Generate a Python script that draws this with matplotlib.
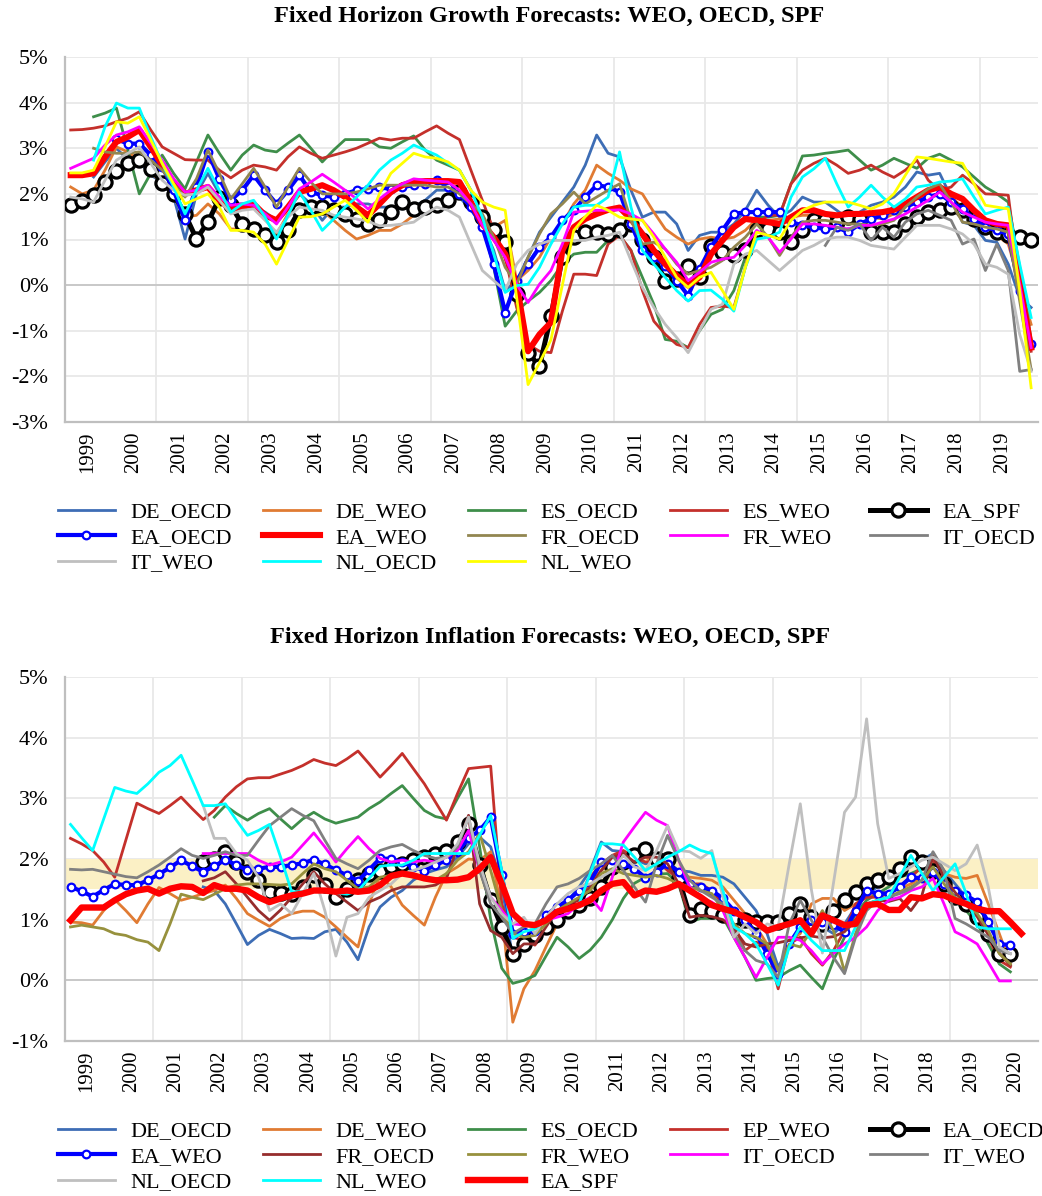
import numpy as np
import matplotlib
matplotlib.use("Agg")
import matplotlib.pyplot as plt

plt.rcParams['font.family'] = ['Liberation Serif', 'DejaVu Serif']

# ---------------- growth forecasts (quarterly, top panel) ----------------
growth_years = ['1999', '2000', '2001', '2002', '2003', '2004', '2005', '2006', '2007', '2008',
                '2009', '2010', '2011', '2012', '2013', '2014', '2015', '2016', '2017', '2018', '2019']

g_de_oecd = [None, None, 2.37, 2.70, 3.00, 2.74, 2.70, 2.41, 2.26, 1.93,
             1.01, 2.00, 2.45, 2.00, 1.78, 1.78, 1.71, 1.60, 1.42, 1.71,
             2.00, 1.78, 1.42, 1.71, 1.71, 1.78, 1.78, 1.71, 1.71, 1.67,
             1.71, 1.86, 2.08, 2.08, 1.93, 1.64, 1.34, 0.76, -0.12, 0.10,
             0.61, 1.16, 1.49, 1.82, 2.15, 2.63, 3.29, 2.89, 2.81, 2.08,
             1.49, 1.60, 1.60, 1.34, 0.76, 1.09, 1.16, 1.16, 1.34, 1.64,
             2.08, 1.75, 1.49, 1.64, 1.93, 1.82, 1.82, 1.64, 1.45, 1.60,
             1.75, 1.82, 1.93, 2.15, 2.48, 2.41, 2.45, 1.93, 1.38, 1.31,
             0.98, 0.94, 0.46, -0.27, -0.49]
g_de_weo = [2.15, 2.00, 2.08, 2.52, 3.03, 2.92, 2.74, 2.45, 2.26, 1.93,
            1.49, 1.53, 1.78, 1.56, 1.23, 1.23, 1.16, 1.16, 1.12, 1.56,
            1.71, 1.82, 1.64, 1.42, 1.20, 1.01, 1.09, 1.20, 1.20, 1.34,
            1.53, 1.71, 1.78, 1.93, 2.08, 1.93, 1.56, 1.27, 1.42, 0.10,
            0.32, 0.61, 1.05, 1.34, 1.78, 2.08, 2.63, 2.45, 2.30, 2.11,
            2.00, 1.60, 1.23, 1.05, 0.90, 1.01, 1.05, 1.01, 1.05, 1.20,
            1.45, 1.42, 1.45, 1.49, 1.53, 1.53, 1.49, 1.45, 1.42, 1.45,
            1.49, 1.45, 1.56, 1.67, 1.86, 2.04, 2.15, 1.93, 1.71, 1.42,
            1.20, 1.09, 0.90, 0.02, -0.86]
g_es_oecd = [None, None, 3.69, 3.77, 3.88, 2.96, 2.00, 2.45, 2.85, 2.45,
             2.11, 2.70, 3.29, 2.89, 2.52, 2.85, 3.07, 2.96, 2.92, 3.11,
             3.29, 3.00, 2.70, 2.96, 3.19, 3.19, 3.19, 3.03, 3.00, 3.14,
             3.27, 2.96, 2.74, 2.63, 2.52, 2.08, 1.34, 0.39, -0.90, -0.57,
             -0.35, -0.16, 0.10, 0.46, 0.68, 0.72, 0.72, 0.98, 1.09, 0.76,
             0.17, -0.42, -1.19, -1.23, -1.37, -1.00, -0.64, -0.53, -0.12, 0.61,
             1.49, 1.49, 1.53, 2.22, 2.83, 2.85, 2.89, 2.92, 2.96, 2.74,
             2.52, 2.63, 2.78, 2.67, 2.56, 2.78, 2.87, 2.74, 2.59, 2.37,
             2.15, 2.00, 1.82, 0.39, -1.20]
g_es_weo = [3.40, 3.41, 3.44, 3.49, 3.58, 3.66, 3.80, 3.40, 3.03, 2.89,
            2.75, 2.74, 2.74, 2.52, 2.35, 2.52, 2.63, 2.59, 2.52, 2.81,
            3.03, 2.89, 2.78, 2.85, 2.92, 3.00, 3.11, 3.22, 3.18, 3.22,
            3.22, 3.36, 3.49, 3.33, 3.19, 2.52, 1.86, 1.20, 0.61, -0.49,
            -1.30, -1.45, -1.48, -0.57, 0.24, 0.24, 0.21, 0.90, 1.09, 0.76,
            -0.12, -0.79, -1.08, -1.30, -1.37, -0.86, -0.49, -0.46, -0.49, 0.39,
            1.34, 1.53, 1.53, 2.22, 2.52, 2.67, 2.78, 2.63, 2.45, 2.52,
            2.63, 2.48, 2.36, 2.52, 2.74, 2.30, 2.08, 2.15, 2.41, 2.22,
            2.00, 1.99, 1.97, 0.02, -1.45]
g_ea_spf = [1.75, 1.84, 1.97, 2.26, 2.50, 2.68, 2.74, 2.55, 2.24, 2.00,
            1.55, 1.01, 1.38, 1.90, 1.75, 1.34, 1.23, 1.09, 0.94, 1.20,
            1.64, 1.71, 1.71, 1.64, 1.56, 1.45, 1.34, 1.42, 1.60, 1.82,
            1.67, 1.71, 1.75, 1.86, 2.04, 1.82, 1.49, 1.20, 0.94, -0.20,
            -1.48, -1.78, -0.68, 0.61, 1.05, 1.16, 1.16, 1.12, 1.20, 1.34,
            0.98, 0.61, 0.10, 0.13, 0.43, 0.17, 0.85, 0.72, 0.65, 0.76,
            1.20, 1.23, 1.16, 0.94, 1.20, 1.42, 1.42, 1.38, 1.49, 1.45,
            1.16, 1.16, 1.16, 1.34, 1.49, 1.60, 1.64, 1.71, 1.64, 1.45,
            1.27, 1.16, 1.09, 1.05, 0.98]
g_ea_oecd = [None, None, None, None, 3.20, 3.10, 3.10, 2.85, 2.60, 2.08,
             1.42, 2.15, 2.92, 2.33, 1.86, 2.08, 2.41, 2.08, 1.78, 2.08,
             2.41, 2.04, 1.97, 1.93, 2.00, 2.08, 2.11, 2.14, 2.11, 2.15,
             2.19, 2.22, 2.30, 2.15, 2.00, 1.71, 1.27, 0.46, -0.60, 0.10,
             0.46, 0.83, 1.05, 1.42, 1.64, 1.93, 2.19, 2.15, 2.04, 1.34,
             0.76, 0.61, 0.43, 0.10, -0.23, 0.35, 0.83, 1.20, 1.56, 1.60,
             1.60, 1.60, 1.60, 1.38, 1.31, 1.27, 1.23, 1.27, 1.16, 1.34,
             1.45, 1.53, 1.64, 1.71, 1.82, 1.93, 2.00, 1.82, 1.67, 1.45,
             1.27, 1.20, 1.12, -0.12, -1.30]
g_ea_weo = [2.41, 2.41, 2.45, 2.81, 3.14, 3.25, 3.40, 3.03, 2.63, 2.26,
            2.00, 2.08, 2.15, 1.86, 1.67, 1.71, 1.78, 1.53, 1.42, 1.71,
            2.04, 2.11, 2.19, 2.08, 1.93, 1.71, 1.53, 1.78, 2.04, 2.19,
            2.26, 2.28, 2.28, 2.28, 2.26, 1.82, 1.34, 1.05, 0.68, 0.02,
            -1.45, -1.08, -0.82, 0.76, 1.27, 1.45, 1.56, 1.65, 1.70, 1.45,
            1.12, 0.76, 0.46, 0.21, -0.01, 0.17, 0.68, 0.98, 1.27, 1.45,
            1.42, 1.38, 1.34, 1.49, 1.64, 1.64, 1.56, 1.53, 1.56, 1.56,
            1.58, 1.60, 1.65, 1.78, 1.93, 2.08, 2.15, 2.00, 1.89, 1.64,
            1.42, 1.34, 1.31, 0.02, -1.37]
g_fr_oecd = [None, None, 3.00, 2.92, 2.89, 2.89, 2.92, 2.74, 2.52, 2.22,
             1.93, 2.33, 2.96, 2.45, 1.89, 2.22, 2.56, 2.15, 1.71, 2.15,
             2.56, 2.26, 2.00, 2.00, 2.00, 2.04, 2.11, 2.19, 2.19, 2.19,
             2.19, 2.19, 2.15, 2.15, 2.00, 1.78, 1.56, 1.05, 0.39, 0.02,
             0.61, 1.12, 1.56, 1.78, 2.04, 1.78, 1.93, 2.08, 2.22, 1.42,
             0.90, 0.94, 0.79, 0.46, 0.24, 0.32, 0.39, 0.54, 0.83, 1.05,
             1.34, 1.05, 0.65, 1.05, 1.38, 1.42, 1.42, 1.38, 1.34, 1.34,
             1.31, 1.34, 1.42, 1.71, 1.93, 2.11, 2.22, 1.82, 1.38, 1.34,
             1.27, 1.23, 1.16, -0.35, -1.85]
g_fr_weo = [2.56, 2.67, 2.78, 3.07, 3.29, 3.36, 3.47, 3.11, 2.74, 2.33,
            2.04, 2.08, 2.19, 1.93, 1.75, 1.78, 1.75, 1.56, 1.34, 1.71,
            2.11, 2.26, 2.43, 2.26, 2.08, 1.89, 1.67, 1.89, 2.08, 2.22,
            2.33, 2.30, 2.28, 2.26, 2.08, 1.78, 1.31, 0.98, 0.61, 0.02,
            -0.38, 0.02, 0.32, 0.90, 1.60, 1.62, 1.64, 1.64, 1.65, 1.56,
            1.42, 1.12, 0.79, 0.50, 0.10, 0.28, 0.50, 0.57, 0.61, 0.87,
            1.20, 1.05, 0.72, 1.01, 1.34, 1.34, 1.31, 1.27, 1.23, 1.31,
            1.31, 1.38, 1.45, 1.56, 1.71, 1.86, 2.04, 1.82, 1.60, 1.49,
            1.38, 1.34, 1.31, 0.02, -1.37]
g_it_oecd = [None] * 66 + [0.87, 1.27, 1.20, 1.34,
                           0.98, 1.27, 1.05, 1.38, 1.56, 1.64, 1.53, 1.42, 0.90, 1.01,
                           0.32, 0.90, 0.32, -1.89, -1.85]
g_it_weo = [1.93, 1.89, 1.82, 2.30, 2.74, 2.89, 3.03, 2.67, 2.30, 2.08,
            1.97, 2.00, 2.15, 1.86, 1.56, 1.64, 1.67, 1.42, 1.16, 1.49,
            1.71, 1.67, 1.64, 1.53, 1.49, 1.45, 1.40, 1.30, 1.31, 1.34,
            1.38, 1.56, 1.71, 1.64, 1.49, 0.90, 0.32, 0.10, -0.12, 0.46,
            0.76, 0.90, 0.98, 0.98, 0.98, 0.98, 1.05, 1.09, 1.16, 0.54,
            -0.05, -0.49, -0.86, -1.15, -1.48, -1.00, -0.53, -0.42, 0.46, 0.68,
            0.76, 0.54, 0.32, 0.54, 0.76, 0.87, 1.01, 1.05, 1.05, 0.98,
            0.87, 0.83, 0.79, 1.05, 1.31, 1.31, 1.31, 1.23, 1.12, 0.90,
            0.46, 0.39, 0.24, -1.08, -1.89]
g_nl_oecd = [None, None, 2.74, 3.47, 3.99, 3.88, 3.88, 3.25, 2.67, 2.15,
             1.56, 2.08, 2.56, 2.08, 1.60, 1.78, 1.86, 1.49, 1.01, 1.53,
             2.04, 1.64, 1.20, 1.45, 1.71, 1.93, 2.19, 2.52, 2.74, 2.89,
             3.07, 2.96, 2.85, 2.67, 2.52, 2.08, 1.49, 0.68, -0.16, -0.01,
             0.02, 0.39, 0.90, 1.34, 1.71, 1.75, 1.75, 1.93, 2.92, 1.71,
             0.76, 0.46, 0.17, -0.12, -0.35, -0.12, -0.11, -0.31, -0.57, 0.39,
             1.01, 1.05, 1.16, 1.93, 2.37, 2.55, 2.78, 2.22, 1.71, 1.93,
             2.19, 1.93, 1.71, 1.89, 2.15, 2.19, 2.26, 2.28, 2.33, 1.93,
             1.56, 1.64, 1.71, 0.46, -0.71]
g_nl_weo = [2.46, 2.46, 2.52, 3.03, 3.58, 3.55, 3.69, 3.18, 2.67, 2.22,
            1.78, 1.89, 2.00, 1.71, 1.20, 1.20, 1.16, 0.90, 0.46, 0.98,
            1.49, 1.50, 1.56, 1.71, 1.86, 1.64, 1.38, 2.00, 2.45, 2.67,
            2.89, 2.81, 2.78, 2.70, 2.52, 2.08, 1.82, 1.71, 1.64, -0.27,
            -2.18, -1.70, -1.20, 0.00, 1.20, 1.50, 1.75, 1.64, 1.49, 1.45,
            1.42, 1.05, 0.61, 0.17, -0.05, 0.17, 0.28, -0.12, -0.53, 0.39,
            1.16, 1.09, 1.01, 1.42, 1.64, 1.75, 1.82, 1.82, 1.82, 1.75,
            1.67, 1.78, 2.00, 2.41, 2.81, 2.78, 2.74, 2.70, 2.67, 2.22,
            1.75, 1.71, 1.67, -0.12, -2.25]

# ---------------- inflation forecasts (quarterly, bottom panel) ----------------
inflation_years = growth_years + ['2020']

i_de_oecd = [None] * 12 + [1.54, 1.48, 1.26, 0.93, 0.59, 0.74, 0.84, 0.77,
             0.69, 0.70, 0.69, 0.80, 0.84, 0.63, 0.34, 0.88, 1.21, 1.37,
             1.48, 1.65, 1.76, 1.82, 1.87, 2.03, 2.25, 2.36, 2.20, 1.59,
             0.33, 0.55, 0.71, 1.02, 1.15, 1.32, 1.54, 1.81, 2.28, 2.14,
             2.12, 2.00, 1.92, 1.98, 1.95, 1.81, 1.79, 1.73, 1.73, 1.70,
             1.59, 1.37, 1.15, 0.77, 0.22, 0.55, 0.82, 0.93, 0.88, 0.77,
             0.93, 1.21, 1.43, 1.54, 1.70, 1.81, 1.92, 1.98, 2.09, 1.81,
             1.59, 1.37, 1.21, 0.93, 0.60, 0.38, None]
i_de_weo = [0.96, 0.95, 0.91, 1.15, 1.33, 1.15, 0.95, 1.26, 1.53, 1.43,
            1.32, 1.37, 1.43, 1.48, 1.57, 1.35, 1.10, 0.99, 0.89, 1.02,
            1.10, 1.14, 1.14, 1.04, 0.88, 0.71, 0.55, 1.26, 1.73, 1.54,
            1.24, 1.07, 0.91, 1.37, 1.76, 1.87, 2.00, 1.98, 2.12, 1.15,
            -0.69, -0.14, 0.16, 0.55, 0.93, 1.15, 1.32, 1.59, 1.81, 1.98,
            2.06, 2.09, 2.03, 1.92, 1.84, 1.76, 1.70, 1.68, 1.65, 1.54,
            1.32, 1.10, 0.88, 0.60, 0.14, 0.66, 0.77, 1.26, 1.35, 1.35,
            1.15, 1.26, 1.37, 1.43, 1.46, 1.51, 1.59, 1.70, 1.92, 1.76,
            1.70, 1.68, 1.73, 1.26, 0.77, 0.27, None]
i_es_oecd = [None] * 13 + [2.69, 2.88, 2.75, 2.64, 2.75, 2.83, 2.66,
             2.50, 2.66, 2.77, 2.66, 2.59, 2.64, 2.69, 2.83, 2.94, 3.08,
             3.21, 3.00, 2.80, 2.70, 2.66, 3.00, 3.32, 2.20, 1.00, 0.20,
             -0.05, 0.00, 0.08, 0.40, 0.71, 0.55, 0.36, 0.50, 0.71, 1.00,
             1.35, 1.60, 1.70, 1.75, 1.76, 1.59, 0.96, 1.02, 1.02, 1.04,
             0.71, 0.38, 0.00, 0.03, 0.05, 0.16, 0.25, 0.05, -0.14, 0.33,
             0.71, 1.10, 1.32, 1.43, 1.54, 1.70, 1.76, 1.84, 1.92, 1.59,
             1.32, 1.15, 0.93, 0.60, 0.27, 0.14, None]
i_ep_weo = [2.34, 2.25, 2.14, 1.95, 1.70, 2.31, 2.92, 2.83, 2.75, 2.88,
            3.02, 2.83, 2.65, 2.80, 3.02, 3.19, 3.32, 3.34, 3.34, 3.40,
            3.46, 3.54, 3.64, 3.58, 3.54, 3.65, 3.78, 3.57, 3.35, 3.54,
            3.74, 3.49, 3.24, 2.94, 2.64, 3.08, 3.49, 3.51, 3.53, 1.26,
            0.71, 0.66, 0.58, 0.82, 1.04, 1.15, 1.24, 1.70, 1.92, 2.06,
            2.14, 2.03, 1.95, 1.98, 1.81, 1.68, 1.59, 1.59, 1.48, 1.26,
            0.93, 0.49, 0.63, 0.55, -0.14, 0.60, 0.71, 0.44, 0.25, 0.49,
            0.82, 1.26, 1.37, 1.37, 1.43, 1.54, 1.70, 1.87, 1.98, 1.65,
            1.37, 1.21, 1.04, 0.71, 0.33, 0.22, None]
i_ea_oecd = [None] * 12 + [1.95, 2.00, 2.12, 1.95, 1.79, 1.65, 1.46, 1.44,
             1.42, 1.54, 1.73, 1.57, 1.37, 1.51, 1.65, 1.76, 1.81, 1.88,
             1.92, 1.98, 2.03, 2.09, 2.14, 2.28, 2.58, 1.90, 1.32, 0.88,
             0.44, 0.60, 0.75, 0.88, 0.99, 1.15, 1.24, 1.35, 1.54, 1.87,
             1.95, 2.06, 2.17, 2.00, 2.00, 1.68, 1.07, 1.18, 1.15, 1.07,
             1.02, 1.00, 0.96, 0.96, 0.96, 1.10, 1.26, 1.04, 0.93, 1.15,
             1.32, 1.46, 1.59, 1.65, 1.70, 1.84, 2.03, 1.95, 1.81, 1.59,
             1.37, 1.26, 1.04, 0.77, 0.44, 0.44, None]
i_ea_weo = [1.54, 1.47, 1.38, 1.49, 1.59, 1.57, 1.57, 1.65, 1.75, 1.86,
            1.98, 1.88, 1.79, 1.88, 1.99, 1.90, 1.82, 1.84, 1.87, 1.87,
            1.90, 1.93, 1.99, 1.91, 1.82, 1.73, 1.64, 1.82, 2.01, 2.00,
            1.95, 1.87, 1.81, 1.90, 1.98, 2.12, 2.34, 2.47, 2.69, 1.73,
            0.77, 0.80, 0.82, 1.07, 1.21, 1.32, 1.48, 1.62, 1.95, 1.98,
            1.92, 1.84, 1.69, 1.79, 1.92, 1.79, 1.59, 1.54, 1.48, 1.35,
            1.15, 0.99, 0.77, 0.44, 0.11, 0.60, 0.88, 0.99, 0.96, 0.91,
            0.80, 1.15, 1.48, 1.43, 1.43, 1.54, 1.70, 1.68, 1.79, 1.59,
            1.48, 1.40, 1.29, 0.96, 0.60, 0.58, None]
i_fr_oecd = [None] * 12 + [1.64, 1.69, 1.79, 1.59, 1.37, 1.15, 0.99, 1.16,
             1.37, 1.59, 1.79, 1.59, 1.43, 1.29, 1.15, 1.29, 1.37, 1.48,
             1.54, 1.54, 1.54, 1.57, 1.68, 2.20, 2.72, 1.26, 0.82, 0.71,
             0.44, 0.60, 0.60, 0.88, 1.15, 1.26, 1.32, 1.54, 1.81, 2.03,
             2.09, 1.95, 2.03, 2.03, 1.92, 1.59, 1.04, 1.07, 1.05, 1.00,
             0.85, 0.60, 0.55, 0.60, 0.62, 0.66, 0.70, 0.73, 0.70, 0.72,
             0.80, 1.00, 1.25, 1.32, 1.30, 1.35, 1.15, 1.40, 2.05, 1.70,
             1.45, 1.25, 1.05, 0.75, 0.45, 0.25, None]
i_fr_weo = [0.88, 0.91, 0.88, 0.85, 0.77, 0.74, 0.67, 0.63, 0.49, 0.93,
            1.42, 1.37, 1.33, 1.42, 1.51, 1.57, 1.59, 1.59, 1.58, 1.57,
            1.59, 1.76, 1.92, 1.84, 1.79, 1.65, 1.51, 1.54, 1.70, 1.73,
            1.76, 1.70, 1.68, 1.65, 1.76, 1.98, 2.12, 2.42, 1.81, 1.15,
            0.77, 0.71, 0.74, 0.93, 1.15, 1.26, 1.37, 1.48, 1.76, 1.84,
            1.76, 1.73, 1.70, 1.73, 1.68, 1.59, 1.54, 1.48, 1.43, 1.15,
            0.93, 0.77, 0.71, 0.60, 0.16, 0.60, 0.55, 0.82, 1.15, 0.82,
            0.14, 0.77, 1.26, 1.32, 1.37, 1.46, 1.54, 1.65, 1.87, 1.59,
            1.37, 1.26, 1.10, 0.82, 0.44, 0.27, None]
i_it_oecd = [None] * 12 + [2.09, 2.09, 2.09, 2.09, 2.09, 1.98, 1.90, 1.95,
             2.03, 2.23, 2.43, 2.20, 1.95, 2.17, 2.37, 2.17, 2.01, 1.95,
             1.98, 1.95, 1.98, 1.95, 2.03, 2.14, 2.47, 1.81, 1.37, 1.15,
             0.93, 0.91, 0.91, 0.99, 1.04, 1.10, 1.26, 1.37, 1.15, 1.70,
             2.28, 2.53, 2.77, 2.64, 2.55, 1.98, 1.54, 1.35, 1.29, 1.15,
             0.71, 0.38, 0.05, 0.38, 0.71, 0.71, 0.66, 0.49, 0.27, 0.44,
             0.60, 0.71, 0.88, 1.15, 1.32, 1.37, 1.48, 1.54, 1.68, 1.26,
             0.80, 0.71, 0.60, 0.30, -0.01, -0.01, None]
i_it_weo = [1.83, 1.82, 1.83, 1.79, 1.75, 1.71, 1.69, 1.79, 1.90, 2.03,
            2.17, 2.06, 2.01, 2.06, 2.12, 2.06, 2.06, 2.31, 2.55, 2.69,
            2.83, 2.72, 2.63, 2.31, 2.01, 1.92, 1.84, 1.98, 2.14, 2.20,
            2.24, 2.14, 2.06, 2.01, 2.03, 2.20, 2.69, 1.81, 1.26, 1.04,
            0.77, 0.88, 0.93, 1.26, 1.54, 1.59, 1.68, 1.81, 1.92, 2.06,
            1.81, 1.54, 1.29, 1.92, 2.39, 1.98, 1.65, 1.48, 1.37, 1.26,
            0.77, 0.49, 0.33, 0.27, 0.05, 0.93, 1.32, 0.99, 0.71, 0.38,
            0.11, 0.71, 1.15, 1.32, 1.37, 1.43, 1.51, 1.65, 2.12, 1.81,
            1.02, 0.93, 0.82, 0.71, 0.49, 0.44, None]
i_nl_oecd = [None] * 12 + [2.88, 2.34, 2.34, 2.09, 1.98, 1.70, 1.15, 1.26,
             1.10, 1.43, 1.76, 1.15, 0.40, 1.04, 1.10, 1.37, 1.48, 1.59,
             1.76, 1.81, 1.87, 1.95, 2.03, 2.25, 2.69, 1.92, 1.37, 1.10,
             0.93, 1.04, 0.77, 1.04, 1.26, 1.43, 1.54, 1.59, 1.70, 1.81,
             2.06, 1.87, 1.81, 2.14, 2.55, 2.14, 2.12, 2.01, 2.14, 1.37,
             0.71, 0.93, 0.77, 0.93, 0.88, 1.92, 2.91, 1.50, 0.45, 1.60,
             2.77, 3.02, 4.31, 2.58, 1.68, 1.76, 1.87, 1.98, 2.03, 1.92,
             1.81, 1.92, 2.23, 1.54, 0.55, 0.44, None]
i_nl_weo = [2.57, 2.35, 2.14, 2.66, 3.18, 3.12, 3.08, 3.24, 3.43, 3.54,
            3.71, 3.30, 2.88, 2.88, 2.91, 2.64, 2.39, 2.47, 2.57, 2.03,
            1.46, 1.46, 1.48, 1.48, 1.44, 1.42, 1.48, 1.68, 1.88, 1.90,
            1.90, 1.98, 2.09, 2.09, 2.09, 2.09, 2.09, 2.39, 2.72, 1.81,
            0.69, 0.80, 0.85, 1.02, 1.15, 1.18, 1.26, 1.76, 2.25, 2.25,
            2.23, 2.03, 1.81, 1.92, 2.03, 2.12, 2.23, 2.14, 2.09, 1.48,
            0.88, 0.77, 0.60, 0.27, -0.08, 0.55, 0.88, 0.66, 0.49, 0.49,
            0.49, 0.88, 1.26, 1.32, 1.37, 1.70, 2.06, 1.76, 1.48, 1.70,
            1.92, 1.43, 0.88, 0.85, 0.85, 0.85, None]
i_ea_spf = [0.99, 1.20, 1.20, 1.20, 1.32, 1.42, 1.48, 1.51, 1.43, 1.51,
            1.55, 1.54, 1.44, 1.57, 1.51, 1.51, 1.48, 1.37, 1.29, 1.35,
            1.40, 1.43, 1.48, 1.48, 1.46, 1.48, 1.46, 1.48, 1.57, 1.72,
            1.76, 1.73, 1.68, 1.65, 1.65, 1.66, 1.70, 1.84, 2.03, 1.59,
            1.10, 0.93, 0.91, 0.99, 1.13, 1.18, 1.24, 1.32, 1.48, 1.59,
            1.62, 1.40, 1.48, 1.46, 1.51, 1.59, 1.48, 1.37, 1.24, 1.18,
            1.13, 1.04, 0.96, 0.82, 0.88, 0.93, 0.99, 0.77, 1.07, 0.99,
            0.91, 0.93, 1.24, 1.26, 1.16, 1.16, 1.37, 1.35, 1.42, 1.40,
            1.32, 1.26, 1.18, 1.14, 1.14, 0.96, 0.77]

# target band for inflation
band_low, band_high = 1.5, 2.0

# ---------------- styles ----------------
def thin(color):
    return dict(color=color, lw=2.0)

spf_ring = dict(color='black', lw=3.6, marker='o', ms=9.5, mfc='white', mec='black', mew=2.3)
blue_dots = dict(color='#0000FF', lw=3.0, marker='o', ms=5.5, mfc='white', mec='#0000FF', mew=1.6)
red_thick = dict(color='#FF0000', lw=4.4)

growth_series = [
    ('DE_OECD', g_de_oecd, thin('#3D6DB5')),
    ('DE_WEO', g_de_weo, thin('#E07B33')),
    ('ES_OECD', g_es_oecd, thin('#3E8E4A')),
    ('ES_WEO', g_es_weo, thin('#C4302B')),
    ('EA_SPF', g_ea_spf, spf_ring),
    ('EA_OECD', g_ea_oecd, blue_dots),
    ('EA_WEO', g_ea_weo, red_thick),
    ('FR_OECD', g_fr_oecd, thin('#928650')),
    ('FR_WEO', g_fr_weo, thin('#FF00FF')),
    ('IT_OECD', g_it_oecd, thin('#808080')),
    ('IT_WEO', g_it_weo, thin('#BFBFBF')),
    ('NL_OECD', g_nl_oecd, thin('#00FFFF')),
    ('NL_WEO', g_nl_weo, thin('#FFFF00')),
]

inflation_series = [
    ('DE_OECD', i_de_oecd, thin('#3D6DB5')),
    ('DE_WEO', i_de_weo, thin('#E07B33')),
    ('ES_OECD', i_es_oecd, thin('#3E8E4A')),
    ('EP_WEO', i_ep_weo, thin('#C4302B')),
    ('EA_OECD', i_ea_oecd, spf_ring),
    ('EA_WEO', i_ea_weo, blue_dots),
    ('FR_OECD', i_fr_oecd, thin('#962D2D')),
    ('FR_WEO', i_fr_weo, thin('#97913D')),
    ('IT_OECD', i_it_oecd, thin('#FF00FF')),
    ('IT_WEO', i_it_weo, thin('#808080')),
    ('NL_OECD', i_nl_oecd, thin('#BFBFBF')),
    ('NL_WEO', i_nl_weo, thin('#00FFFF')),
    ('EA_SPF', i_ea_spf, dict(color='#FF0000', lw=4.6)),
]


def draw_panel(ax, series, years, xmax, ymin, ymax):
    for k, (label, values, style) in enumerate(series):
        y = np.array(values, dtype=float)
        x = np.arange(len(y)) + 0.5
        ax.plot(x, y, label=label, zorder=3 + k * 0.1, **style)

    ax.set_xlim(0, xmax)
    ax.set_ylim(ymin, ymax)
    yt = list(range(ymin, ymax + 1))
    ax.set_yticks(yt)
    ax.set_yticklabels([f'{v}%' for v in yt], fontsize=16)
    ax.set_xticks([2 + 4 * k for k in range(len(years))])
    ax.set_xticklabels(years, rotation=90, fontsize=15)
    ax.set_xticks(list(range(8, 81, 8)), minor=True)
    ax.tick_params(axis='both', which='both', length=0)
    ax.tick_params(axis='y', pad=12)
    ax.tick_params(axis='x', pad=7)

    ax.grid(True, axis='y', which='major', color='#E8E8E8', lw=1.3, zorder=0)
    ax.grid(True, axis='x', which='minor', color='#E8E8E8', lw=1.3, zorder=0)
    ax.set_axisbelow(True)
    ax.axhline(0, color='#C9C9C9', lw=1.4, zorder=1)

    for side in ('top', 'right'):
        ax.spines[side].set_visible(False)
    for side in ('left', 'bottom'):
        ax.spines[side].set_color('#BFBFBF')
        ax.spines[side].set_linewidth(1.6)


def draw_legend(fig, ax, order, y_px):
    handles, labels = ax.get_legend_handles_labels()
    lookup = dict(zip(labels, handles))
    col_x = [58, 263, 468, 670, 870]
    for c in range(5):
        names = order[c::5]
        fig.legend([lookup[n] for n in names], names,
                   loc='upper left', bbox_to_anchor=(col_x[c] / W, 1 - y_px / H),
                   frameon=False, fontsize=16, handlelength=2.55, handletextpad=0.7,
                   labelspacing=0.22, borderpad=0, borderaxespad=0)


W, H = 1042, 1196
fig = plt.figure(figsize=(W / 100, H / 100), dpi=100)

ax1 = fig.add_axes([65 / W, 1 - 422 / H, 973 / W, 365 / H])
draw_panel(ax1, growth_series, growth_years, 85.1, -3, 5)
fig.text(549 / W, 1 - 16 / H, 'Fixed Horizon Growth Forecasts: WEO, OECD, SPF',
         ha='center', va='center', fontsize=17.5, fontweight='bold')
draw_legend(fig, ax1, ['DE_OECD', 'DE_WEO', 'ES_OECD', 'ES_WEO', 'EA_SPF', 'EA_OECD', 'EA_WEO',
                       'FR_OECD', 'FR_WEO', 'IT_OECD', 'IT_WEO', 'NL_OECD', 'NL_WEO'], 502)

ax2 = fig.add_axes([65 / W, 1 - 1041 / H, 973 / W, 364 / H])
ax2.axhspan(band_low, band_high, color='#FBF0C5', lw=0, zorder=1.5)
draw_panel(ax2, inflation_series, inflation_years, 88.0, -1, 5)
fig.text(550 / W, 1 - 637 / H, 'Fixed Horizon Inflation Forecasts: WEO, OECD, SPF',
         ha='center', va='center', fontsize=17.5, fontweight='bold')
draw_legend(fig, ax2, [s[0] for s in inflation_series], 1121)

fig.savefig('out.png', dpi=100)
